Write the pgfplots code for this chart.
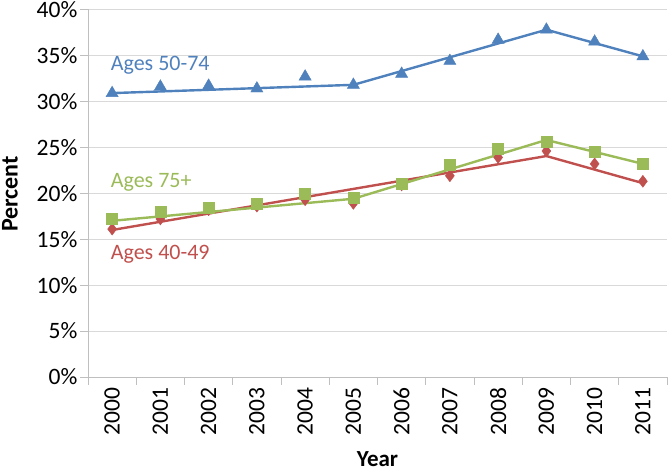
\documentclass[border=0pt]{standalone}
\usepackage{pgfplots}
\pgfplotsset{compat=1.18}
\usepackage{fontspec}
\setmainfont{Carlito}

\definecolor{ageblue}{RGB}{79,129,189}
\definecolor{agered}{RGB}{192,80,77}
\definecolor{agegreen}{RGB}{155,187,89}
\definecolor{gridgray}{RGB}{217,217,217}
\definecolor{axisgray}{RGB}{191,191,191}

\begin{document}
\begin{tikzpicture}
\begin{axis}[
    at={(0,0)}, anchor=south west,
    scale only axis,
    width=579pt, height=367.5pt,
    xmin=1999.5, xmax=2011.5,
    ymin=0, ymax=40,
    xtick={2000,...,2011},
    minor xtick={1999.5,2000.5,...,2011.5},
    ytick={0,5,...,40},
    major x tick style={draw=none},
    minor x tick style={axisgray, line width=0.8pt},
    major y tick style={axisgray, line width=0.8pt},
    major tick length=8pt,
    minor tick length=8pt,
    tick align=outside,
    axis x line*=bottom, axis y line*=left,
    axis line style={axisgray, line width=0.8pt, -},
    ymajorgrids=true,
    grid style={gridgray, line width=0.8pt},
    /pgf/number format/assume math mode=true,
    /pgf/number format/1000 sep={},
    xticklabel style={rotate=90, anchor=east, font=\fontsize{23.5}{26}\selectfont, inner sep=2.5pt},
    yticklabel={\pgfmathprintnumber{\tick}\%},
    yticklabel style={font=\fontsize{23.5}{26}\selectfont, inner sep=2.5pt},
    xtick pos=bottom, ytick pos=left,
    clip=false,
]
% trend lines
\addplot[agered, line width=2.4pt] coordinates {(2000,16.0) (2009,24.05) (2011,21.1)};
\addplot[agegreen, line width=2.4pt] coordinates {(2000,17.0) (2005,19.4) (2009,25.8) (2011,23.2)};
\addplot[ageblue, line width=2.4pt] coordinates {(2000,30.9) (2005,31.8) (2009,37.8) (2011,34.9)};

% observed values
\addplot[only marks, mark=diamond*, mark size=6pt, agered] coordinates {
    (2000,16.1) (2001,17.2) (2002,18.2) (2003,18.6) (2004,19.3) (2005,18.9)
    (2006,20.9) (2007,21.9) (2008,23.9) (2009,24.6) (2010,23.2) (2011,21.3)
};
\addplot[only marks, mark=square*, mark size=5.5pt, agegreen] coordinates {
    (2000,17.2) (2001,17.95) (2002,18.4) (2003,18.9) (2004,20.0) (2005,19.5)
    (2006,21.0) (2007,23.1) (2008,24.8) (2009,25.6) (2010,24.5) (2011,23.2)
};
\addplot[only marks, mark=triangle*, mark size=7pt, ageblue] coordinates {
    (2000,30.9) (2001,31.6) (2002,31.7) (2003,31.4) (2004,32.7) (2005,31.8)
    (2006,33.0) (2007,34.4) (2008,36.7) (2009,37.8) (2010,36.5) (2011,34.9)
};

\node[anchor=west, ageblue, font=\fontsize{22}{25}\selectfont] at (axis cs:1999.9,33.95) {Ages 50-74};
\node[anchor=west, agegreen, font=\fontsize{22}{25}\selectfont] at (axis cs:1999.9,21.2) {Ages 75+};
\node[anchor=west, agered, font=\fontsize{22}{25}\selectfont] at (axis cs:1999.9,13.4) {Ages 40-49};
\end{axis}
\node[rotate=90, inner sep=0pt, font=\fontsize{24}{27}\selectfont\bfseries] at (-78pt,183pt) {Percent};
\node[inner sep=0pt, font=\fontsize{23}{26}\selectfont\bfseries] at (289.5pt,-82pt) {Year};
\pgfresetboundingbox
\path (-88pt,-97pt) rectangle (580pt,377pt);
\end{tikzpicture}
\end{document}
